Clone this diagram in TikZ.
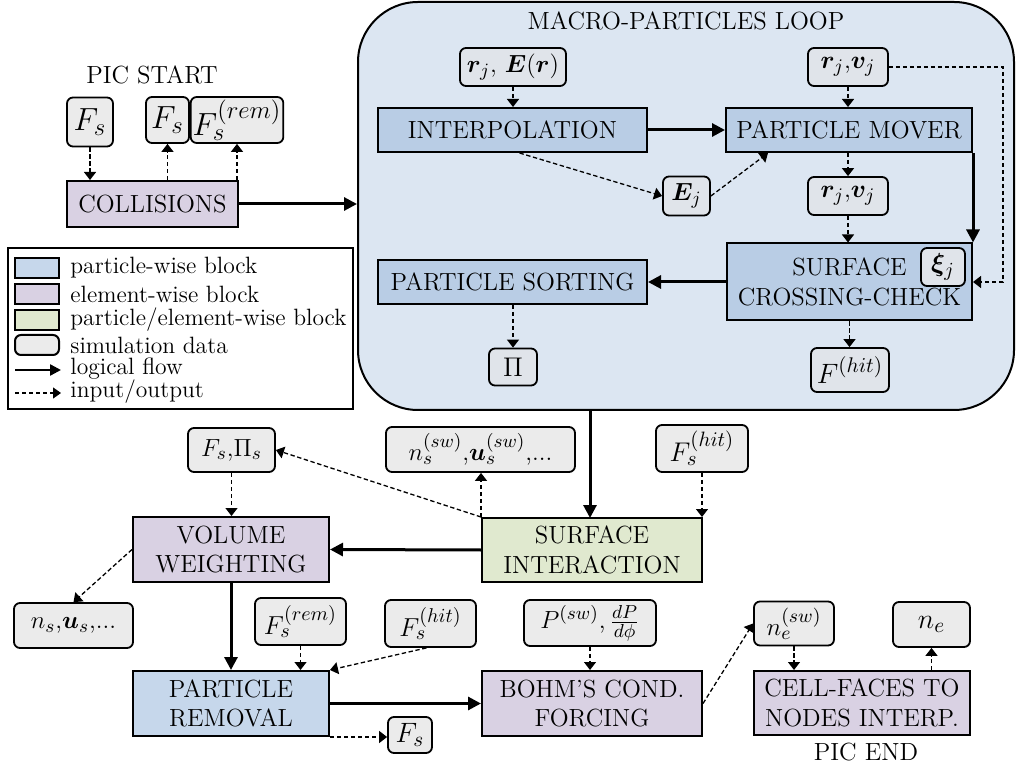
\RequirePackage{fix-cm}
\documentclass[tikz,border=0pt]{standalone}
\usepackage{amsmath,bm}
\usetikzlibrary{arrows.meta}
\DeclareMathSizes{12.4}{12.4}{9.4}{7}
\DeclareMathSizes{12.6}{12.6}{9.6}{7}
\DeclareMathSizes{13}{13}{10}{7.5}
\DeclareMathSizes{13.5}{13.5}{10.4}{7.5}
\DeclareMathSizes{14}{14}{10.6}{8}
\DeclareMathSizes{16}{16}{12.4}{9}
\definecolor{loopbg}{HTML}{DCE6F2}
\definecolor{pblue}{HTML}{B9CDE5}
\definecolor{pblue2}{HTML}{C6D7EB}
\definecolor{epurple}{HTML}{D9D1E3}
\definecolor{pgreen}{HTML}{E0E9CF}
\definecolor{dgray}{HTML}{EBEBEB}
\definecolor{dgray2}{HTML}{E0E4EA}
\tikzset{
  every node/.style={font=\fontsize{12.4}{14.8}\selectfont},
  blk/.style={draw, line width=1pt, inner sep=1pt, align=center},
  pblk/.style={blk, fill=pblue},
  pblkb/.style={blk, fill=pblue2},
  eblk/.style={blk, fill=epurple},
  gblk/.style={blk, fill=pgreen},
  dat/.style={draw, rounded corners=3pt, line width=0.9pt, fill=dgray, inner sep=1pt},
  dati/.style={dat, fill=dgray2},
  fsz/.style={font=\fontsize{#1}{#1}\selectfont},
  legtxt/.style={anchor=west, inner sep=0pt, font=\fontsize{11.8}{14}\selectfont},
  flow/.style={line width=1.5pt, -{Triangle[length=6.5pt,width=6.5pt]}},
  io/.style={line width=0.65pt, dash pattern=on 2.2pt off 1.3pt, -{Triangle[length=4pt,width=6pt]}},
  sz/.style 2 args={minimum width=#1, minimum height=#2},
}
\begin{document}
\begin{tikzpicture}[x=0.5pt,y=-0.5pt]
\path[use as bounding box] (0,0) rectangle (1016,769);

% macro-particles loop
\node[draw, line width=1pt, fill=loopbg, rounded corners=30pt, sz={328pt}{204pt}] (loop) at (686,206) {};
\node (looptitle) at (686,21) {MACRO-PARTICLES LOOP};

% start
\node (start) at (152,75) {PIC START};
\node[dat, fsz=16, sz={23pt}{24.5pt}] (fsL) at (90,122) {$F_s$};
\node[dat, fsz=16, sz={21.5pt}{23pt}] (fsM) at (167.5,120) {$F_s$};
\node[dat, fsz=16, sz={44pt}{23pt}] (frem) at (237,120) {$F_s^{(rem)}$};
\node[eblk, sz={85.5pt}{23pt}] (coll) at (152.5,204) {COLLISIONS};

% inside loop
\node[dati, sz={53pt}{19pt}] (rE) at (513,67) {$\bm{r}_j$, $\bm{E}(\bm{r})$};
\node[pblk, sz={134.5pt}{22pt}] (interp) at (512.5,130) {INTERPOLATION};
\node[pblk, sz={123pt}{22pt}] (mover) at (849,130) {PARTICLE MOVER};
\node[dati, fsz=12.6, sz={40pt}{19pt}] (rv1) at (848,67) {$\bm{r}_j$,$\bm{v}_j$};
\node[dati, sz={23.5pt}{19.5pt}] (Ej) at (686.5,196) {$\bm{E}_j$};
\node[dati, fsz=12.6, sz={40pt}{19pt}] (rv2) at (848,196) {$\bm{r}_j$,$\bm{v}_j$};
\node[pblk, sz={122.5pt}{38.5pt}] (surf) at (849.5,282) {SURFACE\\CROSSING-CHECK};
\node[dati, fsz=13, sz={22pt}{19pt}] (xi) at (943,267) {$\bm{\xi}_j$};
\node[pblk, sz={134.5pt}{22pt}] (sort) at (512.5,282) {PARTICLE SORTING};
\node[dati, fsz=13.5, sz={24pt}{18.5pt}] (Pi) at (513,367) {$\Pi$};
\node[dati, fsz=14, sz={39pt}{22pt}] (fhit1) at (850,370) {$F^{(hit)}$};
\coordinate (rcol) at (1003,0);

% legend
\node[draw, line width=0.9pt, sz={172.5pt}{80.5pt}] (legend) at (180.5,328.5) {};
\node[draw, line width=1pt, fill=pblue2, sz={22pt}{10pt}] (lg1) at (37,268) {};
\node[draw, line width=1pt, fill=epurple, sz={22pt}{10pt}] (lg2) at (37,294) {};
\node[draw, line width=1pt, fill=pgreen, sz={22pt}{10pt}] (lg3) at (37,320) {};
\node[draw, line width=1pt, fill=dgray, rounded corners=3pt, sz={22pt}{10pt}] (lg4) at (37,345) {};
\coordinate (lg5a) at (15,370); \coordinate (lg5b) at (61,370);
\coordinate (lg6a) at (15,393); \coordinate (lg6b) at (61,393);
\draw[flow, line width=1.2pt, -{Triangle[length=5.5pt,width=5.5pt]}] (lg5a) -- (lg5b);
\draw[io, -{Triangle[length=4pt,width=5.5pt]}] (lg6a) -- (lg6b);
\node[legtxt] (lt1) at (70,268) {particle-wise block};
\node[legtxt] (lt2) at (70,294) {element-wise block};
\node[legtxt] (lt3) at (70,320) {particle/element-wise block};
\node[legtxt] (lt4) at (70,345) {simulation data};
\node[legtxt] (lt5) at (70,369) {logical flow};
\node[legtxt] (lt6) at (70,392) {input/output};

% lower part
\node[dat, sz={43.5pt}{22pt}] (fspi) at (231.5,450) {$F_s$,$\Pi_s$};
\node[eblk, sz={98pt}{32.5pt}] (vw) at (231,549.5) {VOLUME\\WEIGHTING};
\node[dat, sz={94.5pt}{22.5pt}] (nsw) at (480.5,449.5) {$n_s^{(sw)}$,$\bm{u}_s^{(sw)}$,...};
\node[dat, fsz=13.5, sz={46pt}{23.5pt}] (fhit2) at (702,448.5) {$F_s^{(hit)}$};
\node[gblk, sz={110pt}{32pt}] (si) at (592,550) {SURFACE\\INTERACTION};
\node[dat, sz={59.5pt}{22.5pt}] (nsu) at (73.5,625.5) {$n_s$,$\bm{u}_s$,...};
\node[dat, fsz=13, sz={45.5pt}{23.5pt}] (frem2) at (300.5,621.5) {$F_s^{(rem)}$};
\node[dat, fsz=13, sz={45.5pt}{23.5pt}] (fhit3) at (430.5,623.5) {$F_s^{(hit)}$};
\node[pblkb, sz={98pt}{32.5pt}] (pr) at (231,703.5) {PARTICLE\\REMOVAL};
\node[dat, fsz=14, sz={22pt}{18pt}] (fs3) at (410,735) {$F_s$};
\node[eblk, sz={110pt}{32.5pt}] (bohm) at (592,703.5) {BOHM'S COND.\\FORCING};
\node[dat, sz={66pt}{23pt}] (pb) at (590,623) {$P^{(sw)}$,\,$\frac{dP}{d\phi}$};
\node[dat, fsz=12.6, sz={40pt}{22pt}] (nesw) at (794,623.5) {$n_e^{(sw)}$};
\node[eblk, sz={108pt}{32pt}] (cf) at (862,703) {CELL-FACES TO\\NODES INTERP.};
\node[dat, fsz=14, sz={38.5pt}{22.5pt}] (ne) at (931.5,624.5) {$n_e$};
\node (end) at (866,752) {PIC END};

% connectors: start
\draw[io] (fsL.south) -- (fsL.south |- coll.north);
\draw[io] (coll.north -| fsM.south) -- (fsM.south);
\draw[io] (coll.north -| frem.south) -- (frem.south);
\draw[flow] (coll.east) -- (coll.east -| loop.west);

% connectors: loop
\draw[io] (rE.south) -- (rE.south |- interp.north);
\draw[flow] (interp.east) -- (mover.west);
\draw[io] ([xshift=3.5pt]interp.south) -- (Ej.west);
\draw[io] (Ej.east) -- ([xshift=-40.5pt]mover.south);
\draw[io] (rv1.south) -- (rv1.south |- mover.north);
\draw[io] (mover.south -| rv2.north) -- (rv2.north);
\draw[io] (rv2.south) -- (rv2.south |- surf.north);
\draw[flow] (mover.south east) -- (surf.north east);
\draw[io] (rv1.east) -- (rv1.east -| rcol) |- (surf.east);
\draw[flow] (surf.west) -- (sort.east);
\draw[io] (sort.south -| Pi.north) -- (Pi.north);
\draw[io] (surf.south) -- (surf.south |- fhit1.north);

% connectors: lower
\coordinate (sitop) at (590,518);
\draw[flow] (sitop |- loop.south) -- (sitop);
\draw[io] (fhit2.south) -- (fhit2.south |- si.north);
\draw[io] (si.north west) -- (si.north west |- nsw.south);
\draw[io] (si.north west) -- (fspi.east);
\draw[flow] (si.west) -- (vw.east);
\draw[io] (fspi.south) -- (fspi.south |- vw.north);
\draw[io] (vw.west) -- (nsu.north);
\draw[flow] (vw.south) -- (pr.north);
\draw[io] (frem2.south) -- (frem2.south |- pr.north);
\draw[io] ([xshift=-2pt]fhit3.south) -- (pr.north east);
\draw[flow] (pr.east) -- (pr.east -| bohm.west);
\draw[io] (pr.south east) -- (pr.south east -| fs3.west);
\draw[io] (pb.south) -- (pb.south |- bohm.north);
\draw[io] (bohm.east) -- (nesw.west);
\draw[io] (nesw.south) -- (nesw.south |- cf.north);
\draw[io] (cf.north -| ne.south) -- (ne.south);
\end{tikzpicture}
\end{document}
